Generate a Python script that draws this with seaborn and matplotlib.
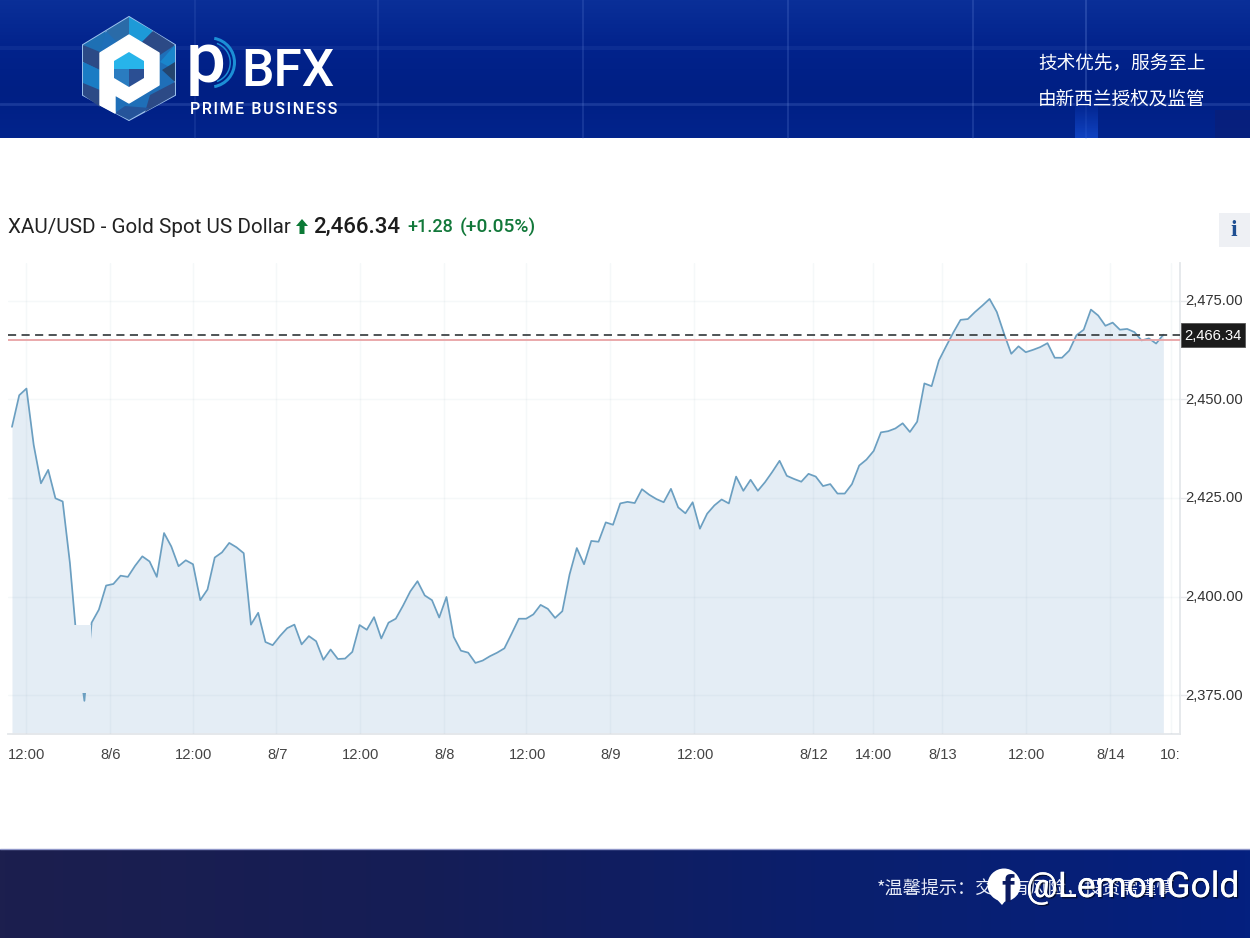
import numpy as np
import pandas as pd
import seaborn as sns
import matplotlib
matplotlib.use("Agg")
import matplotlib.pyplot as plt
import matplotlib.patheffects as pe
from matplotlib.patches import Polygon, Rectangle, Circle, Wedge
from matplotlib.colors import LinearSegmentedColormap
from matplotlib.transforms import ScaledTranslation

# XAU/USD quotes, oldest first
prices_aug5_to_aug7 = [
    2443.0, 2451.0, 2452.7, 2438.4, 2428.7, 2432.1, 2424.9, 2424.1, 2408.5, 2387.5,
    2373.6, 2393.4, 2396.7, 2402.8, 2403.2, 2405.3, 2405.0, 2407.8, 2410.2, 2408.9,
    2405.0, 2416.1, 2412.7, 2407.7, 2409.2, 2408.2, 2399.1, 2401.8, 2409.9, 2411.2,
    2413.6, 2412.5, 2411.0, 2392.9, 2395.9, 2388.5, 2387.7, 2390.0, 2392.0, 2392.9,
    2387.9, 2390.0, 2388.7,
]
prices_aug7_to_aug9 = [
    2384.0, 2386.6, 2384.2, 2384.3, 2386.0, 2392.8, 2391.6, 2394.8, 2389.4, 2393.4,
    2394.4, 2397.7, 2401.3, 2403.9, 2400.3, 2399.1, 2394.7, 2399.9, 2389.8, 2386.3,
    2385.8, 2383.2, 2383.8, 2384.9, 2385.8, 2386.9, 2390.6, 2394.4, 2394.4, 2395.5,
    2397.9, 2396.9, 2394.6, 2396.3, 2405.6, 2412.3, 2408.2, 2414.1, 2413.9, 2418.8,
    2418.2, 2423.6, 2424.0, 2423.7,
]
prices_aug9_to_aug13 = [
    2427.2, 2425.8, 2424.7, 2423.9, 2427.3, 2422.6, 2421.1, 2423.9, 2417.2, 2421.0,
    2423.1, 2424.6, 2423.6, 2430.4, 2426.8, 2429.6, 2426.8, 2429.0, 2431.6, 2434.4,
    2430.6, 2429.8, 2429.1, 2431.1, 2430.4, 2428.0, 2428.5, 2426.1, 2426.1, 2428.5,
    2433.2, 2434.7, 2436.9, 2441.6, 2441.9, 2442.6, 2443.9, 2441.7, 2444.3, 2454.0,
    2453.3,
]
prices_aug13_to_aug14 = [
    2459.8, 2463.4, 2466.9, 2470.1, 2470.3, 2472.1, 2473.7, 2475.4, 2472.1, 2466.6,
    2461.5, 2463.4, 2461.9, 2462.5, 2463.2, 2464.2, 2460.5, 2460.5, 2462.3, 2466.2,
    2467.6, 2472.7, 2471.2, 2468.6, 2469.4, 2467.6, 2467.8, 2467.0, 2464.9, 2465.4,
    2464.1, 2466.34,
]
y_ticks = [2375, 2400, 2425, 2450, 2475]
x_tick_slots = [2, 13.5, 25, 36.5, 48, 59.6, 71, 82.6, 94.2, 110.6, 118.9, 128.4, 140, 151.6, 160]
x_tick_names = ["12:00", "8/6", "12:00", "8/7", "12:00", "8/8", "12:00", "8/9", "12:00",
                "8/12", "14:00", "8/13", "12:00", "8/14", "10:"]
last_price = 2466.34
open_price = 2464.9

W, H = 1250, 938
CJK = ["Noto Sans CJK SC", "DejaVu Sans"]

sns.set_theme(style="white", rc={"font.family": "Liberation Sans"})
fig = plt.figure(figsize=(W / 100, H / 100), dpi=100, facecolor="white")

# Page furniture is laid out in a pixel-like coordinate system
page = fig.add_axes([0, 0, 1, 1], zorder=0)
page.axis("off")

top_cmap = LinearSegmentedColormap.from_list("top", ["#0a2f98", "#02238c", "#001f84", "#02248c"])
page.imshow(np.linspace(0, 1, 64)[:, None], extent=(0, W, 138, 0), cmap=top_cmap,
            aspect="auto", zorder=1)

for gx, a in [(195, .16), (378, .18), (583, .22), (788, .25), (973, .25), (1086, .32)]:
    page.plot([gx, gx], [0, 138], color="#6f8fe0", lw=1.2, alpha=a, zorder=2)
for gy, a, lw in [(48, .10, 3), (104, .22, 2)]:
    page.plot([0, W], [gy, gy], color="#6f8fe0", lw=lw, alpha=a, zorder=2)
page.imshow(np.linspace(0, 1, 32)[:, None], extent=(1075, 1098, 138, 100), aspect="auto",
            cmap=LinearSegmentedColormap.from_list("glow", ["#02238c", "#1650d8"]), alpha=.7, zorder=2)
page.add_patch(Rectangle((1215, 110), 35, 28, color="#0a1f78", alpha=.7, lw=0, zorder=2))

# Logo: faceted hexagon with a white "P"
hex_outer = [(129, 17), (175, 45), (175, 95), (129, 120), (83, 95), (83, 45)]
page.add_patch(Polygon(hex_outer, closed=True, fc="#1f6fb8", ec="#9fc4ee", lw=1.4, zorder=3))
facets = [
    ([(129, 17), (153, 31), (142, 42), (129, 36)], "#1d9ad8"),
    ([(129, 17), (106, 31), (117, 42), (129, 36)], "#2a6ba8"),
    ([(153, 31), (175, 45), (160, 55), (142, 42)], "#2c4a86"),
    ([(175, 45), (175, 70), (160, 62)], "#1a86cc"),
    ([(175, 62), (175, 82), (162, 70)], "#24456f"),
    ([(83, 45), (106, 31), (100, 52)], "#1e70b4"),
    ([(83, 45), (100, 52), (100, 70), (83, 62)], "#2c4a86"),
    ([(83, 62), (100, 70), (100, 92), (83, 85)], "#1a7cc4"),
    ([(83, 83), (100, 90), (100, 107), (83, 95)], "#2c4a86"),
    ([(175, 82), (175, 95), (145, 112), (150, 95)], "#2c4a86"),
    ([(115, 113), (129, 120), (150, 108), (125, 106)], "#25549a"),
]
for pts, c in facets:
    page.add_patch(Polygon(pts, closed=True, fc=c, lw=0, zorder=4))
p_shape = [(129, 35), (159, 53), (159, 85), (129, 103), (115, 95), (115, 113), (100, 105), (100, 53)]
page.add_patch(Polygon(p_shape, closed=True, fc="white", ec="white", lw=1, joinstyle="round", zorder=5))
page.add_patch(Polygon([(129, 52), (144, 61), (144, 69), (114, 69), (114, 61)], closed=True, fc="#27b4ea", lw=0, zorder=6))
page.add_patch(Polygon([(114, 69), (129, 69), (129, 87), (114, 78)], closed=True, fc="#2a7cc0", lw=0, zorder=6))
page.add_patch(Polygon([(129, 69), (144, 69), (144, 78), (129, 87)], closed=True, fc="#2b4f93", lw=0, zorder=6))

# Wordmark
page.add_patch(Wedge((210, 62.5), 26, -80, 80, width=3, fc="#1c8fd6", lw=0, zorder=5))
page.add_patch(Wedge((210, 62.5), 21, -70, 70, width=1.5, fc="#1c8fd6", lw=0, zorder=5))
page.text(186, 82, "p", color="white", fontsize=51, family="Roboto", weight="medium", va="baseline",
          ha="left", zorder=6)
page.text(241, 86, "BFX", color="white", fontsize=37, family="Roboto", weight="medium",
          va="baseline", ha="left", zorder=6)
page.text(190, 113.5, "\u200a".join("PRIME BUSINESS"), color="white", fontsize=11.5,
          family=["Roboto", "DejaVu Sans"], va="baseline", ha="left", weight="medium", zorder=6)
page.text(1206, 63.5, "技术优先，服务至上", color="white", fontsize=13.4, family=CJK, va="center",
          ha="right", weight="medium", zorder=6)
page.text(1206, 99.5, "由新西兰授权及监管", color="white", fontsize=13.4, family=CJK, va="center",
          ha="right", weight="medium", zorder=6)

# Bottom banner
bot_cmap = LinearSegmentedColormap.from_list(
    "bot", [(0, "#1c1f4e"), (.34, "#151d56"), (.68, "#0a1f6e"), (1, "#04207f")])
page.imshow(np.linspace(0, 1, 256)[None, :], extent=(0, W, 938, 849), cmap=bot_cmap,
            aspect="auto", zorder=1)
page.plot([0, W], [849, 849], color="#8f96c8", lw=1, zorder=2)
page.text(877, 890, "*温馨提示：交易有风险，投资需谨慎", color="#e8ecf8", fontsize=13.1, family=CJK,
          va="center", ha="left", zorder=6)

# Facebook-style watermark
page.add_patch(Circle((1004, 885), 16.5, fc="white", lw=0, zorder=7))
page.add_patch(Polygon([(993, 895), (1006, 900), (1002, 905)], closed=True, fc="white", lw=0, zorder=7))
page.text(1008, 902, "f", color="#0b1a60", fontsize=27, weight="bold", family="Liberation Sans",
          va="baseline", ha="center", zorder=8)
page.text(1026, 897, "@LemonGold", color="white", fontsize=25.5, family="Roboto",
          weight="normal", va="baseline", ha="left", zorder=8,
          path_effects=[pe.withSimplePatchShadow(offset=(1, -1), shadow_rgbFace="#000000", alpha=.55),
                        pe.Normal()])

# Quote header
title_font = "Roboto"
page.text(8, 227.5, "XAU/USD - Gold Spot US Dollar", color="#222222", fontsize=14.9, family=title_font,
          va="center", ha="left", zorder=6)
page.add_patch(Polygon([(302, 219), (308, 226), (304.5, 226), (304.5, 234), (299.5, 234), (299.5, 226), (296, 226)],
                       closed=True, fc="#0c7a36", lw=0, zorder=6))
page.text(313, 227, "2,466.34", color="#1c1c1c", fontsize=16, family=title_font, weight="medium",
          va="center", ha="left", zorder=6)
page.text(407, 227, "+1.28", color="#12783a", fontsize=13, family=title_font, weight="medium",
          va="center", ha="left", zorder=6)
page.text(460, 227, "(+0.05%)", color="#12783a", fontsize=13.8, family=title_font, weight="medium",
          va="center", ha="left", zorder=6)
page.add_patch(Rectangle((1219, 213), 31, 34, fc="#eef0f4", lw=0, zorder=5))
page.text(1234, 231, "i", color="#1f4f92", fontsize=17, family="Liberation Serif", weight="bold",
          va="center", ha="center", zorder=6)
page.set_xlim(0, W)
page.set_ylim(H, 0)

# Price chart
left, right, top, bottom = 8, 1180, 263, 734
ax = fig.add_axes([left / W, 1 - bottom / H, (right - left) / W, (bottom - top) / H], zorder=2)
ax.patch.set_alpha(0)

prices = np.array(prices_aug5_to_aug7 + prices_aug7_to_aug9 + prices_aug9_to_aug13 + prices_aug13_to_aug14)
quotes = pd.DataFrame({"slot": np.arange(len(prices)), "price": prices})

y_low, y_high = 2365.2, 2484.5
ax.fill_between(quotes["slot"], y_low, quotes["price"], color="#e4edf5", lw=0, zorder=1)
sns.lineplot(data=quotes, x="slot", y="price", color="#6b9fc1", lw=1.25, ax=ax, zorder=3)

ax.set_xlim(-0.55, 161.3)
ax.set_ylim(y_low, y_high)
ax.set_xlabel("")
ax.set_ylabel("")

ax.set_xticks(x_tick_slots)
ax.set_xticklabels(x_tick_names)
ax.set_yticks(y_ticks)
ax.set_yticklabels([f"{v:,.2f}" for v in y_ticks])
ax.yaxis.tick_right()
ax.tick_params(axis="x", length=6, width=1, color="#e6e8eb", pad=4, labelsize=10.6, labelcolor="#444444")
ax.tick_params(axis="y", length=5, width=1, color="#e6e8eb", pad=-1.5, labelsize=10.6, labelcolor="#333333")

# Nudge the tick labels by a pixel so they sit centred on their ticks
for lbl in ax.get_yticklabels():
    lbl.set_transform(lbl.get_transform() + ScaledTranslation(0, 1 / 100, fig.dpi_scale_trans))
for lbl in ax.get_xticklabels()[1:-1]:
    lbl.set_transform(lbl.get_transform() + ScaledTranslation(1 / 100, 0, fig.dpi_scale_trans))

ax.grid(True, color="#7f9db0", alpha=.07, lw=1, zorder=2)
ax.set_axisbelow(False)
for t in ax.get_xgridlines() + ax.get_ygridlines():
    t.set_zorder(2)

for side in ("top", "left"):
    ax.spines[side].set_visible(False)
for side in ("right", "bottom"):
    ax.spines[side].set_color("#e4e7ea")
    ax.spines[side].set_linewidth(1.3)

ax.axhline(open_price, color="#e8a3a5", lw=1.3, zorder=4)
ax.axhline(last_price, color="#404548", lw=1.3, dashes=(4.5, 3), zorder=5)

# A pale panel sits over part of the drop on the first day
ax.add_patch(Rectangle((8.6, 2375.7), 2.3, 2392.7 - 2375.7, fc="#e4edf5", lw=0, zorder=4))

# Last-price flag on the value axis
top_layer = fig.add_axes([0, 0, 1, 1], zorder=3)
top_layer.set_xlim(0, W)
top_layer.set_ylim(H, 0)
top_layer.axis("off")
top_layer.add_patch(Rectangle((1181, 323), 64, 24, fc="#1b1b1b", ec="#555555", lw=.6, zorder=6))
top_layer.text(1213, 335.5, f"{last_price:,.2f}", color="white", fontsize=10.6, family="Liberation Sans",
               va="center", ha="center", zorder=7)

fig.savefig("out.png", dpi=100)
